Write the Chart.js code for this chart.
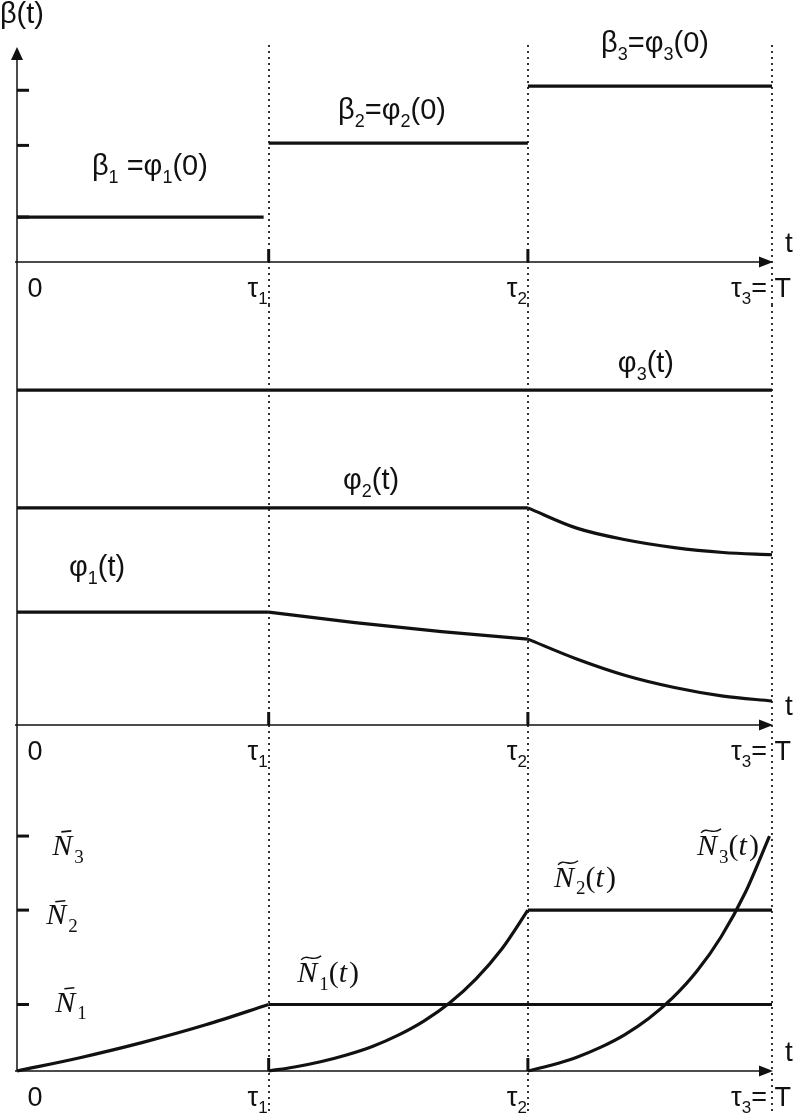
<!DOCTYPE html>
<html>
<head>
<meta charset="utf-8">
<script src="https://cdn.jsdelivr.net/npm/chart.js@4.4.1/dist/chart.umd.min.js"></script>
<style>
  html, body { margin: 0; padding: 0; background: #fff; overflow: hidden; }
  canvas { display: block; }
</style>
</head>
<body>
<canvas id="betaChart" width="799" height="305"></canvas>
<canvas id="phiChart" width="799" height="480"></canvas>
<canvas id="nChart" width="799" height="329"></canvas>
<script>
// switching moments on the time axis
const tau = [0, 1.0, 2.03, 3.0];
const tauLabels = ['0', 'τ_1', 'τ_2', 'τ_3= T'];

// top panel: beta(t) steps
const betaLevels = [0.212, 0.561, 0.83];
const betaTicks = [0.212, 0.55, 0.81];

// middle panel: phi_i(t)
const phi3Level = 0.893;
const phi2Level = 0.579;
const phi2DecayT = [2.03, 2.224, 2.418, 2.612, 2.806, 3.0];
const phi2DecayV = [0.579, 0.525, 0.494, 0.473, 0.460, 0.454];
const phi1Level = 0.301;
const phi1MidT = [1.0, 1.343, 1.687, 2.03];
const phi1MidV = [0.301, 0.273, 0.249, 0.229];
const phi1EndT = [2.03, 2.224, 2.418, 2.612, 2.806, 3.0];
const phi1EndV = [0.229, 0.176, 0.132, 0.100, 0.077, 0.064];

// bottom panel: N_i(t)
const nLevels = [0.265, 0.641, 0.936];
const n1RiseT = [0, 0.25, 0.5, 0.75, 1.0];
const n1RiseV = [0, 0.053, 0.114, 0.184, 0.265];
const n2RiseT = [1.0, 1.103, 1.206, 1.309, 1.412, 1.515, 1.618, 1.721, 1.824, 1.927, 2.03];
const n2RiseV = [0, 0.016, 0.037, 0.064, 0.098, 0.143, 0.200, 0.273, 0.367, 0.487, 0.641];
const n3RiseT = [2.03, 2.126, 2.222, 2.318, 2.414, 2.51, 2.606, 2.702, 2.798, 2.894, 2.99];
const n3RiseV = [0, 0.024, 0.054, 0.094, 0.144, 0.209, 0.292, 0.398, 0.535, 0.711, 0.936];

const INK = '#111';
const SANS = '"Liberation Sans", Arial, sans-serif';
const SERIF = '"Liberation Serif", "Times New Roman", serif';

function seg(ts, vs) {
  return ts.map((t, i) => ({ x: t, y: vs[i] }));
}
function flat(t0, t1, v) {
  return [{ x: t0, y: v }, { x: t1, y: v }];
}
function line(data, curved) {
  return {
    data: data,
    borderColor: INK,
    borderWidth: 3.2,
    pointRadius: 0,
    fill: false,
    clip: false,
    tension: curved ? 0.4 : 0,
    cubicInterpolationMode: curved ? 'monotone' : 'default'
  };
}

// "_x" = subscript x, "~N" = wide tilde over N, "^N" = bar over N
function drawRich(ctx, str, x, y, o) {
  const toks = [];
  for (let i = 0; i < str.length; i++) {
    let sub = false, acc = null;
    if (str[i] === '_') { sub = true; i++; }
    if (str[i] === '~' || str[i] === '^') { acc = str[i]; i++; }
    toks.push({ ch: str[i], sub: sub, acc: acc });
  }
  const subSize = Math.round(o.size * 0.62);
  const gap = o.math ? 2 : 0;
  const fontOf = t => {
    const it = o.math ? /[A-Za-z]/.test(t.ch) : o.style === 'italic';
    return (it ? 'italic ' : 'normal ') + (t.sub ? subSize : o.size) + 'px ' + o.family;
  };
  let w = 0;
  toks.forEach(t => {
    ctx.font = fontOf(t);
    t.w = ctx.measureText(t.ch).width + (t.sub || t.ch === 't' ? gap : 0);
    w += t.w;
  });
  let cx = o.align === 'left' ? x : x - w / 2;
  const base = y + o.size * 0.32;
  ctx.fillStyle = INK;
  ctx.strokeStyle = INK;
  ctx.textBaseline = 'alphabetic';
  ctx.textAlign = 'left';
  toks.forEach(t => {
    ctx.font = fontOf(t);
    const sx = cx + (t.sub ? gap : 0);
    ctx.fillText(t.ch, sx, t.sub ? base + o.size * 0.26 : base);
    const top = base - o.size * 0.66;
    if (t.acc === '~') {
      ctx.lineWidth = 1.4;
      ctx.beginPath();
      ctx.moveTo(sx + 4, top - 2);
      ctx.bezierCurveTo(sx + 10, top - 9, sx + 15, top + 1, sx + 24, top - 6);
      ctx.stroke();
    } else if (t.acc === '^') {
      ctx.lineWidth = 1.6;
      ctx.beginPath();
      ctx.moveTo(sx + 9, top - 3);
      ctx.lineTo(sx + 19, top - 4);
      ctx.stroke();
    }
    cx += t.w;
  });
}

const diagramPlugin = {
  id: 'diagram',
  beforeDraw(chart) {
    const ctx = chart.ctx;
    ctx.save();
    ctx.fillStyle = '#fff';
    ctx.fillRect(0, 0, chart.width, chart.height);
    ctx.restore();
  },
  beforeDatasetsDraw(chart, args, opts) {
    const ctx = chart.ctx;
    const xs = chart.scales.x, ys = chart.scales.y;
    const ax = xs.getPixelForValue(0);
    const ay = ys.getPixelForValue(0);
    const xEnd = xs.getPixelForValue(tau[3]);
    ctx.save();

    // dotted guides at the switching moments
    ctx.strokeStyle = '#333';
    ctx.lineWidth = 2;
    ctx.setLineDash([2, 4]);
    tau.slice(1).forEach(t => {
      const px = Math.round(xs.getPixelForValue(t));
      ctx.beginPath();
      ctx.moveTo(px, opts.guideTop);
      ctx.lineTo(px, chart.height);
      ctx.stroke();
    });
    ctx.setLineDash([]);

    // vertical axis
    ctx.strokeStyle = INK;
    ctx.lineWidth = 1.5;
    ctx.beginPath();
    ctx.moveTo(ax, opts.arrowUp ? chart.chartArea.top : 0);
    ctx.lineTo(ax, opts.axisToBase ? ay : chart.height);
    ctx.stroke();
    if (opts.arrowUp) {
      const tip = chart.chartArea.top - 3;
      ctx.fillStyle = INK;
      ctx.beginPath();
      ctx.moveTo(ax, tip);
      ctx.lineTo(ax - 6, tip + 13);
      ctx.lineTo(ax + 6, tip + 13);
      ctx.closePath();
      ctx.fill();
    }

    // horizontal axis with arrow
    ctx.beginPath();
    ctx.moveTo(ax - 2, ay);
    ctx.lineTo(xEnd - 8, ay);
    ctx.stroke();
    ctx.fillStyle = INK;
    ctx.beginPath();
    ctx.moveTo(xEnd + 1, ay);
    ctx.lineTo(xEnd - 13, ay - 5.5);
    ctx.lineTo(xEnd - 13, ay + 5.5);
    ctx.closePath();
    ctx.fill();

    // ticks
    ctx.lineWidth = 3;
    [tau[1], tau[2]].forEach(t => {
      const px = xs.getPixelForValue(t);
      ctx.beginPath();
      ctx.moveTo(px, ay - 13);
      ctx.lineTo(px, ay);
      ctx.stroke();
    });
    (opts.yTicks || []).forEach(v => {
      const py = ys.getPixelForValue(v);
      ctx.beginPath();
      ctx.moveTo(ax, py);
      ctx.lineTo(ax + 12, py);
      ctx.stroke();
    });
    ctx.restore();
  },
  afterDraw(chart, args, opts) {
    const ctx = chart.ctx;
    const xs = chart.scales.x, ys = chart.scales.y;
    const ax = xs.getPixelForValue(0);
    const ay = ys.getPixelForValue(0);
    const sans = { style: 'normal', size: 27, family: SANS };
    ctx.save();
    tauLabels.forEach((lab, i) => {
      const px = i === 0 ? ax + 18 : xs.getPixelForValue(tau[i]) - (i === 3 ? 11 : 11);
      drawRich(ctx, lab, px, ay + 26, sans);
    });
    drawRich(ctx, 't', xs.getPixelForValue(tau[3]) + 13, ay - 19, { style: 'normal', size: 28, family: SANS, align: 'left' });
    (opts.labels || []).forEach(l => {
      drawRich(ctx, l.text, xs.getPixelForValue(l.t), ys.getPixelForValue(l.v), l.font);
    });
    ctx.restore();
  }
};

function makeChart(id, datasets, padding, plug) {
  return new Chart(document.getElementById(id).getContext('2d'), {
    type: 'line',
    data: { datasets: datasets },
    options: {
      responsive: false,
      animation: false,
      devicePixelRatio: 1,
      layout: { padding: padding },
      plugins: { legend: { display: false }, tooltip: { enabled: false }, diagram: plug },
      scales: {
        x: { type: 'linear', min: 0, max: tau[3], display: false },
        y: { type: 'linear', min: 0, max: 1, display: false }
      }
    },
    plugins: [diagramPlugin]
  });
}

const sansLab = { style: 'normal', size: 29, family: SANS };
const serifLab = { style: 'italic', size: 30, family: SERIF, math: true };

// Chart 1: beta(t)
makeChart('betaChart', [
  line(flat(tau[0], tau[1] - 0.02, betaLevels[0])),
  line(flat(tau[1], tau[2], betaLevels[1])),
  line(flat(tau[2], tau[3], betaLevels[2]))
], { top: 50, bottom: 43, left: 17, right: 27 }, {
  arrowUp: true, axisToBase: false, guideTop: 45, yTicks: betaTicks,
  labels: [
    { text: 'β(t)', t: -0.068, v: 1.17, font: { style: 'normal', size: 29, family: SANS, align: 'left' } },
    { text: 'β_1 =φ_1(0)', t: 0.528, v: 0.453, font: sansLab },
    { text: 'β_2=φ_2(0)', t: 1.49, v: 0.717, font: sansLab },
    { text: 'β_3=φ_3(0)', t: 2.535, v: 1.033, font: sansLab }
  ]
});

// Chart 2: phi_i(t)
makeChart('phiChart', [
  line(flat(tau[0], tau[3], phi3Level)),
  line(flat(tau[0], tau[2], phi2Level)),
  line(seg(phi2DecayT, phi2DecayV), true),
  line(flat(tau[0], tau[1], phi1Level)),
  line(seg(phi1MidT, phi1MidV), true),
  line(seg(phi1EndT, phi1EndV), true)
], { top: 45, bottom: 60, left: 17, right: 27 }, {
  arrowUp: false, axisToBase: false, guideTop: 0,
  labels: [
    { text: 'φ_3(t)', t: 2.499, v: 0.965, font: sansLab },
    { text: 'φ_2(t)', t: 1.407, v: 0.653, font: sansLab },
    { text: 'φ_1(t)', t: 0.318, v: 0.421, font: sansLab }
  ]
});

// Chart 3: N_i(t)
makeChart('nChart', [
  line(seg(n1RiseT, n1RiseV), true),
  line(flat(tau[1], tau[3], nLevels[0])),
  line(seg(n2RiseT, n2RiseV), true),
  line(flat(tau[2], tau[3], nLevels[1])),
  line(seg(n3RiseT, n3RiseV), true)
], { top: 35, bottom: 43, left: 17, right: 27 }, {
  arrowUp: false, axisToBase: true, guideTop: 0, yTicks: nLevels,
  labels: [
    { text: '^N_3', t: 0.203, v: 0.9, font: serifLab },
    { text: '^N_2', t: 0.179, v: 0.622, font: serifLab },
    { text: '^N_1', t: 0.215, v: 0.275, font: serifLab },
    { text: '~N_1(t)', t: 1.236, v: 0.394, font: serifLab },
    { text: '~N_2(t)', t: 2.257, v: 0.773, font: serifLab },
    { text: '~N_3(t)', t: 2.825, v: 0.9, font: serifLab }
  ]
});
</script>
</body>
</html>
